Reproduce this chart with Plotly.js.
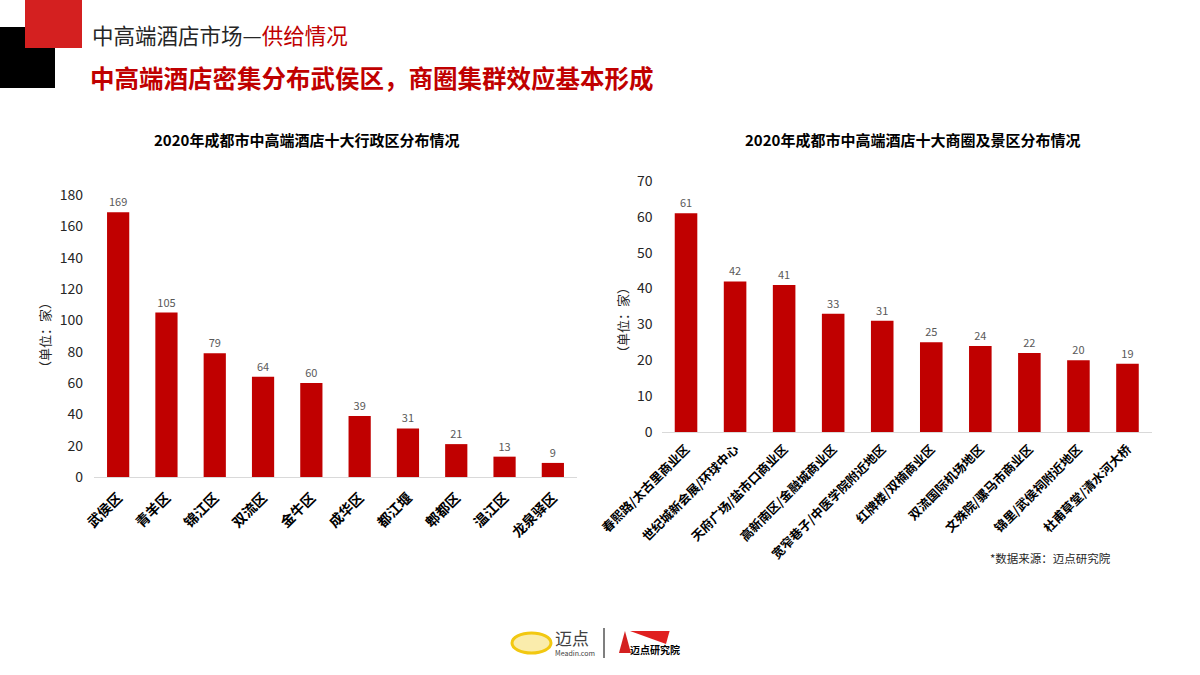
<!DOCTYPE html>
<html><head><meta charset="utf-8">
<script src="https://cdn.plot.ly/plotly-3.0.1.min.js"></script>
<style>body{margin:0;background:#fff}#c{width:1200px;height:675px}</style>
</head><body><div id="c"></div>
<script>
const districts = ["武侯区","青羊区","锦江区","双流区","金牛区","成华区","都江堰","郫都区","温江区","龙泉驿区"];
const districtCounts = [169,105,79,64,60,39,31,21,13,9];
const areas = ["春熙路/太古里商业区","世纪城新会展/环球中心","天府广场/盐市口商业区","高新南区/金融城商业区","宽窄巷子/中医学院附近地区","红牌楼/双楠商业区","双流国际机场地区","文殊院/骡马市商业区","锦里/武侯祠附近地区","杜甫草堂/清水河大桥"];
const areaCounts = [61,42,41,33,31,25,24,22,20,19];
const leftTicks = [0,20,40,60,80,100,120,140,160,180];
const rightTicks = [0,10,20,30,40,50,60,70];

const FONT = "'Noto Sans CJK SC', 'Noto Sans', sans-serif";
const RED = "#C00000";

function bar(x, y, xa, ya) {
  return {type:"bar", x:x, y:y, xaxis:xa, yaxis:ya, marker:{color:RED},
    width:0.46, text:y.map(String), textposition:"outside",
    textfont:{family:FONT, size:11, color:"#595959"}, cliponaxis:false, hoverinfo:"skip"};
}
const xBase = {type:"category", showgrid:false, showline:true, linecolor:"#D9D9D9", linewidth:1,
  ticks:"", tickangle:-45, fixedrange:true, zeroline:false};
const yBase = {showgrid:false, showline:false, zeroline:false, ticks:"", fixedrange:true,
  tickfont:{family:FONT, size:14, color:"#262626"}};

const layout = {
  width:1200, height:675, margin:{l:0,r:0,t:0,b:0}, showlegend:false,
  paper_bgcolor:"#fff", plot_bgcolor:"rgba(0,0,0,0)",
  font:{family:FONT},
  xaxis: Object.assign({}, xBase, {domain:[94/1200,577/1200], anchor:"y", ticklabelstandoff:6,
    tickfont:{family:FONT, size:14, color:"#000", weight:"bold"}}),
  yaxis: Object.assign({}, yBase, {domain:[0.2933,0.7111], range:[0,180], tickvals:leftTicks, anchor:"x", ticklabelstandoff:10}),
  xaxis2: Object.assign({}, xBase, {domain:[661.5/1200,1152/1200], anchor:"y2", ticklabelstandoff:4,
    tickfont:{family:FONT, size:12.5, color:"#000", weight:"bold"}}),
  yaxis2: Object.assign({}, yBase, {domain:[0.36,0.7319], range:[0,70], tickvals:rightTicks, anchor:"x2", ticklabelstandoff:8}),
  shapes:[
    {type:"rect", xref:"paper", yref:"paper", x0:0, x1:55/1200, y0:1-88/675, y1:1-27/675, fillcolor:"#000", line:{width:0}, layer:"below"},
    {type:"rect", xref:"paper", yref:"paper", x0:25/1200, x1:82/1200, y0:1-48/675, y1:1, fillcolor:"#D42020", line:{width:0}},
    {type:"line", xref:"paper", yref:"paper", x0:604/1200, x1:604/1200, y0:1-658/675, y1:1-628/675, line:{color:"#7F7F7F", width:2}},
    {type:"circle", xref:"paper", yref:"paper", x0:512/1200, x1:551/1200, y0:1-653/675, y1:1-633/675, line:{color:"#F2C811", width:3}, fillcolor:"rgba(242,200,17,0.35)"},
    {type:"path", xref:"paper", yref:"paper", path:"M 0.5208 0.0652 L 0.5158 0.0326 L 0.5258 0.0326 Z", fillcolor:"#D42020", line:{width:0}},
    {type:"path", xref:"paper", yref:"paper", path:"M 0.525 0.0652 L 0.558 0.0652 L 0.555 0.0459 Z", fillcolor:"#E02020", line:{width:0}}
  ],
  annotations:[
    {xref:"paper", yref:"paper", x:90/1200, y:1-35/675, xanchor:"left", yanchor:"middle", showarrow:false,
      text:"中高端酒店市场—<span style='color:#C00000'>供给情况</span>", font:{family:FONT, size:21.5, color:"#262626"}},
    {xref:"paper", yref:"paper", x:88/1200, y:1-78/675, xanchor:"left", yanchor:"middle", showarrow:false,
      text:"<b>中高端酒店密集分布武侯区，商圈集群效应基本形成</b>", font:{family:FONT, size:24.5, color:"#C00000"}},
    {xref:"paper", yref:"paper", x:306/1200, y:1-140/675, xanchor:"center", yanchor:"middle", showarrow:false,
      text:"<b>2020年成都市中高端酒店十大行政区分布情况</b>", font:{family:FONT, size:15, color:"#000"}},
    {xref:"paper", yref:"paper", x:912/1200, y:1-140/675, xanchor:"center", yanchor:"middle", showarrow:false,
      text:"<b>2020年成都市中高端酒店十大商圈及景区分布情况</b>", font:{family:FONT, size:15, color:"#000"}},
    {xref:"paper", yref:"paper", x:45/1200, y:1-335/675, xanchor:"center", yanchor:"middle", showarrow:false, textangle:-90,
      text:"（单位：家）", font:{family:FONT, size:13, color:"#262626"}},
    {xref:"paper", yref:"paper", x:622/1200, y:1-320/675, xanchor:"center", yanchor:"middle", showarrow:false, textangle:-90,
      text:"（单位：家）", font:{family:FONT, size:13, color:"#262626"}},
    {xref:"paper", yref:"paper", x:1113/1200, y:1-558/675, xanchor:"right", yanchor:"middle", showarrow:false,
      text:"*数据来源：迈点研究院", font:{family:FONT, size:11.5, color:"#262626"}},
    {xref:"paper", yref:"paper", x:553/1200, y:1-637/675, xanchor:"left", yanchor:"middle", showarrow:false,
      text:"迈点", font:{family:FONT, size:17, color:"#404040"}},
    {xref:"paper", yref:"paper", x:553/1200, y:1-653/675, xanchor:"left", yanchor:"middle", showarrow:false,
      text:"Meadin.com", font:{family:FONT, size:7, color:"#404040"}},
    {xref:"paper", yref:"paper", x:628/1200, y:1-649/675, xanchor:"left", yanchor:"middle", showarrow:false,
      text:"<b>迈点研究院</b>", font:{family:FONT, size:10, color:"#000"}}
  ]
};
Plotly.newPlot("c", [bar(districts, districtCounts, "x", "y"), bar(areas, areaCounts, "x2", "y2")], layout, {staticPlot:true});
</script></body></html>
